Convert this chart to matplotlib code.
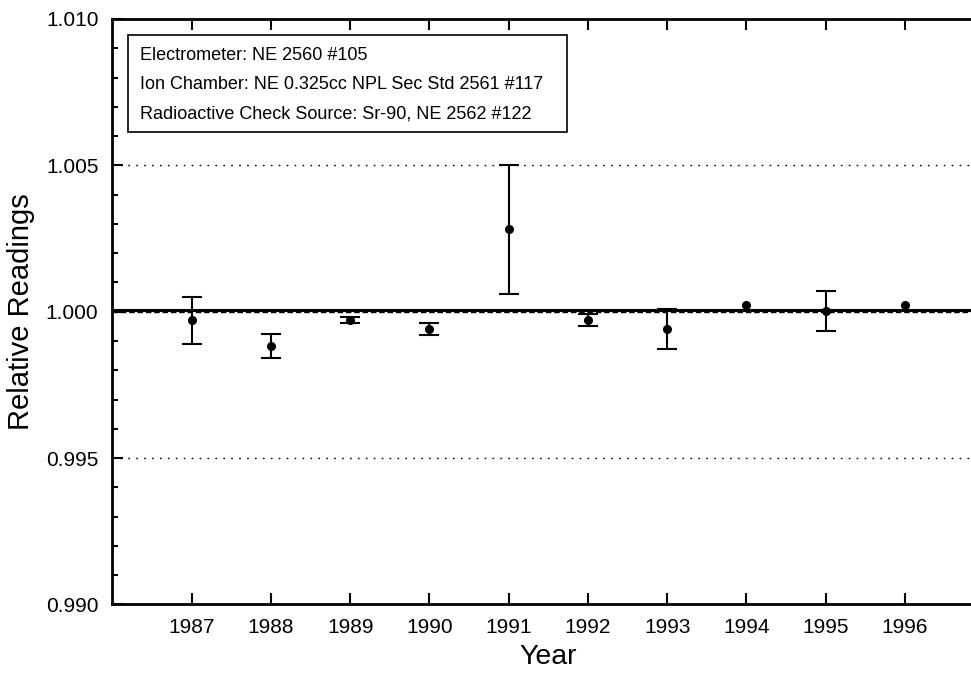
import matplotlib
matplotlib.use("Agg")
import matplotlib.pyplot as plt
from matplotlib.patches import Rectangle
from matplotlib.ticker import MultipleLocator, FormatStrFormatter

plt.rcParams['font.family'] = ['Liberation Sans', 'DejaVu Sans']

years = [1987, 1988, 1989, 1990, 1991, 1992, 1993, 1994, 1995, 1996]
readings = [0.99971, 0.99882, 0.99972, 0.99942, 1.00281, 0.99972, 0.99941, 1.00023, 1.00003, 1.00023]
errors = [0.00080, 0.00041, 0.00010, 0.00020, 0.00220, 0.00020, 0.00070, 0.0, 0.00068, 0.0]
mean_level = 1.00007
ref_level = 1.0
limits = [1.005, 0.995]
info_lines = [
    "Electrometer: NE 2560 #105",
    "Ion Chamber: NE 0.325cc NPL Sec Std 2561 #117",
    "Radioactive Check Source: Sr-90, NE 2562 #122",
]

fig = plt.figure(figsize=(9.71, 6.73), dpi=100)
ax = fig.add_axes([0.1157, 0.1018, 0.898, 0.870])

for lv in limits:
    ax.axhline(lv, color='black', lw=1.0, ls=(0, (1.2, 4.5)), zorder=1)
ax.axhline(ref_level, color='black', lw=1.0, ls=(0, (4, 2)), zorder=1)
ax.axhline(mean_level, color='black', lw=2.2, zorder=2)

# points with error bars, and points without
ex = [y for y, e in zip(years, errors) if e > 0]
ey = [r for r, e in zip(readings, errors) if e > 0]
ee = [e for e in errors if e > 0]
ax.errorbar(ex, ey, yerr=ee, fmt='none', ecolor='black',
            elinewidth=1.5, capsize=7, capthick=1.5, zorder=3)
ax.plot(years, readings, 'o', color='black', ms=5.5, zorder=4)

ax.set_xlim(1986, 1997)
ax.set_ylim(0.990, 1.010)
ax.set_xticks(years)
ax.yaxis.set_major_locator(MultipleLocator(0.005))
ax.yaxis.set_minor_locator(MultipleLocator(0.001))
ax.yaxis.set_major_formatter(FormatStrFormatter('%.3f'))

ax.tick_params(axis='both', which='major', direction='in', length=8, width=1.5,
               labelsize=15, top=True, right=True)
ax.tick_params(axis='y', which='major', pad=10)
ax.tick_params(axis='x', which='major', pad=10)
ax.tick_params(axis='y', which='minor', direction='in', length=4.5, width=1.5, right=True)

for sp in ax.spines.values():
    sp.set_linewidth(2)

ax.set_xlabel('Year', fontsize=20.5, labelpad=5)
ax.set_ylabel('Relative Readings', fontsize=21, labelpad=8)

# info box
ax.add_patch(Rectangle((0.0174, 0.807), 0.5045, 0.1657, transform=ax.transAxes,
                       fill=False, lw=1.2, ec='black', zorder=4))
for i, line in enumerate(info_lines):
    ax.text(0.032, 0.938 - i * 0.0505, line, transform=ax.transAxes,
            fontsize=13, va='center', ha='left', zorder=5)

fig.savefig('out.png', dpi=100)
